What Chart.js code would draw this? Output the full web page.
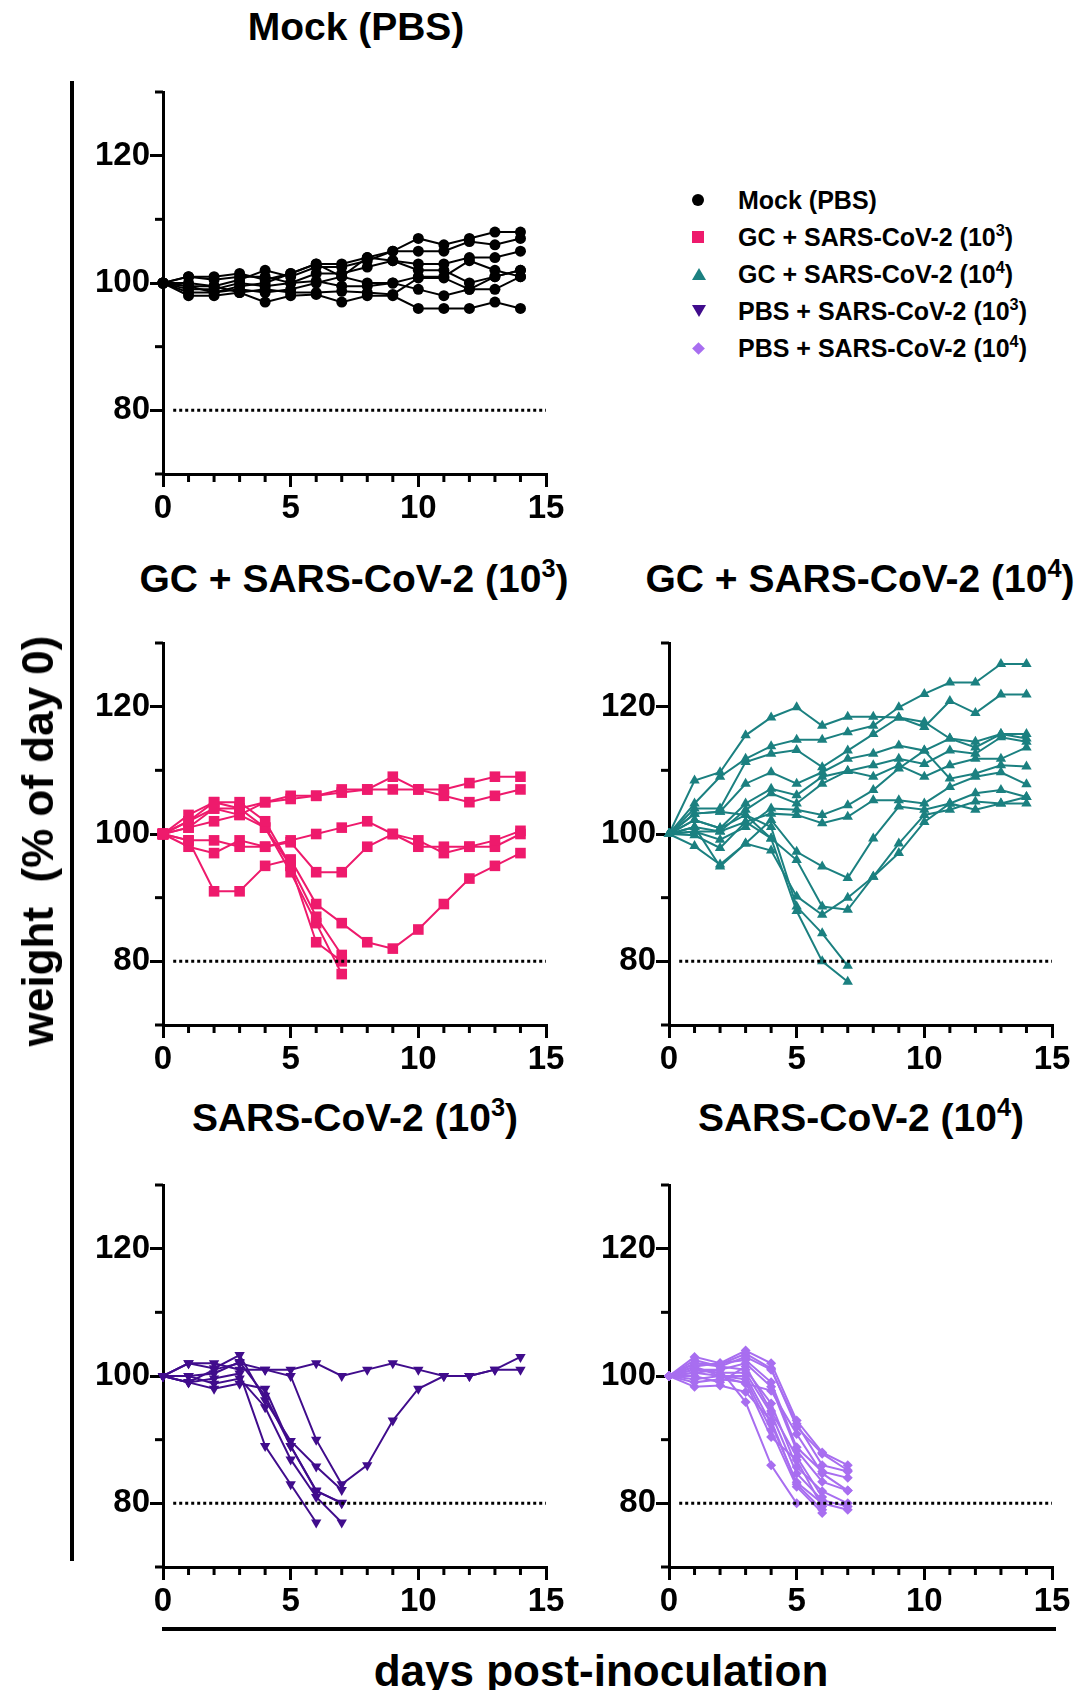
<!DOCTYPE html>
<html>
<head>
<meta charset="utf-8">
<script src="https://cdn.jsdelivr.net/npm/chart.js@4.4.1/dist/chart.umd.min.js"></script>
<style>
  body { margin:0; width:1082px; height:1690px; position:relative; background:#fff; overflow:hidden;
         font-family:"Liberation Sans", Arial, sans-serif; font-weight:bold; color:#000; }
  canvas { position:absolute; }
  .title { position:absolute; font-size:39px; transform:translate(-50%,-50%); white-space:nowrap; }
  sup { font-size:0.65em; vertical-align:0.6em; line-height:0; }
  .legend { position:absolute; left:684px; top:182px; font-size:25px; }
  .legend div { height:37px; line-height:37px; position:relative; padding-left:54px; white-space:nowrap; }
  .mk { position:absolute; left:8px; top:12px; }
  .bar { position:absolute; background:#000; }
</style>
</head>
<body>
<canvas id="mock"></canvas>
<canvas id="gc3"></canvas>
<canvas id="gc4"></canvas>
<canvas id="pbs3"></canvas>
<canvas id="pbs4"></canvas>

<div class="title" style="left:356px;top:27px">Mock (PBS)</div>
<div class="title" style="left:354px;top:579px">GC + SARS-CoV-2 (10<sup>3</sup>)</div>
<div class="title" style="left:860px;top:579px">GC + SARS-CoV-2 (10<sup>4</sup>)</div>
<div class="title" style="left:355px;top:1118px">SARS-CoV-2 (10<sup>3</sup>)</div>
<div class="title" style="left:861px;top:1118px">SARS-CoV-2 (10<sup>4</sup>)</div>

<div class="title" style="left:38px;top:841px;font-size:44px;white-space:pre;transform:translate(-50%,-50%) rotate(-90deg)">weight  (% of day 0)</div>
<div class="title" style="left:601px;top:1671px;font-size:44px">days post-inoculation</div>
<div class="bar" style="left:70px;top:81px;width:4px;height:1480px"></div>
<div class="bar" style="left:162px;top:1627px;width:894px;height:4px"></div>

<div class="legend">
  <div><span class="mk" style="width:12px;height:12px;border-radius:50%;background:#000"></span>Mock (PBS)</div>
  <div><span class="mk" style="width:12px;height:12px;background:#ee1a6c"></span>GC + SARS-CoV-2 (10<sup>3</sup>)</div>
  <div><span class="mk" style="width:0;height:0;border-left:7px solid transparent;border-right:7px solid transparent;border-bottom:12px solid #1b8080"></span>GC + SARS-CoV-2 (10<sup>4</sup>)</div>
  <div><span class="mk" style="width:0;height:0;border-left:7px solid transparent;border-right:7px solid transparent;border-top:12px solid #400c8c"></span>PBS + SARS-CoV-2 (10<sup>3</sup>)</div>
  <div><span class="mk" style="left:10px;top:14px;width:9px;height:9px;background:#a86ef0;transform:rotate(45deg)"></span>PBS + SARS-CoV-2 (10<sup>4</sup>)</div>
</div>

<script>
const days = [0, 1, 2, 3, 4, 5, 6, 7, 8, 9, 10, 11, 12, 13, 14];
const yLabels = [80, 100, 120];
const cutoff = 80;

// weight (% of day 0) per mouse, one row per animal
const mock = [
  [100, 101, 101, 101.5, 100.5, 101.5, 103, 103, 104, 105, 107, 106, 107, 108, 108],
  [100, 100, 99.5, 100.5, 102, 101, 102.5, 102.5, 103.5, 105, 105, 105, 106.5, 106, 107],
  [100, 99, 99, 100, 99.5, 100, 101.5, 101.5, 102.5, 103.5, 103, 103, 104, 104, 105],
  [100, 98.5, 98.5, 99, 98.5, 99, 100, 101, 104, 103.5, 102, 102, 100, 101, 102],
  [100, 99.5, 98.5, 99.5, 100, 101.5, 103, 101, 100, 100, 101, 101, 103.5, 102, 101],
  [100, 101, 100.5, 101, 101, 100, 100.3, 99.5, 99.5, 100, 99, 98, 99, 99, 101],
  [100, 98, 98, 98.5, 97, 98, 98.2, 97, 98, 98, 96, 96, 96, 97, 96],
  [100, 99.5, 99.5, 98.5, 99, 98.5, 98.5, 98.7, 98.5, 98.2, 100.8, 100.8, 99, 101, 102]
];

const gc3 = [
  [100, 102, 104, 104, 105, 105.5, 106, 106.5, 107, 109, 107, 107, 108, 109, 109],
  [100, 101, 102, 103, 105, 106, 106, 107, 107, 107, 107, 106, 105, 106, 107],
  [100, 99, 99, 98, 98, 99, 100, 101, 102, 100, 98, 98, 98, 99, 100.5],
  [100, 98, 97, 99, 98, 98.7, 94, 94, 98, 100, 99, 97, 98, 98, 100],
  [100, 99, 91, 91, 95, 96, 89, 86, 83, 82, 85, 89, 93, 95, 97],
  [100, 103, 105, 105, 102, 95, 87, 81],
  [100, 102, 105, 104, 101, 94, 86, 78],
  [100, 101, 104, 103, 101, 95, 83, 80]
];

const gc4 = [
  [100, 108.4, 109.7, 115.5, 118.3, 119.9, 117, 118.4, 118.4, 118.3, 117.6, 115, 114.5, 115.7, 115],
  [100, 104.8, 109, 111.8, 113.8, 114.8, 114.8, 116, 117, 119.9, 122, 123.8, 123.8, 126.7, 126.7],
  [100, 104, 104, 111.3, 112.6, 113.2, 110.5, 113.1, 115.7, 118.3, 116.8, 120.9, 119, 121.9, 121.9],
  [100, 103.2, 103.5, 107.9, 109.7, 107.9, 109.7, 111.8, 112.6, 113.9, 113.1, 115, 113.6, 115.7, 115.7],
  [100, 102.2, 100.9, 104.8, 107.1, 106.1, 109, 109.9, 110.8, 111.8, 111, 113.1, 112.6, 115.2, 114.5],
  [100, 101.1, 100.4, 103.8, 106.4, 104.8, 107.9, 109.9, 109, 110.8, 109, 110.8, 111.8, 111.8, 113.6],
  [100, 100.4, 99.1, 101.1, 104, 103.8, 103, 104.5, 106.9, 110.3, 113.1, 108.7, 109.5, 110.8, 110.6],
  [100, 99.8, 97.8, 101.9, 103.2, 103, 101.7, 102.7, 105.3, 105.3, 104.8, 107.4, 109, 109.7, 107.8],
  [100, 98.1, 95.2, 98.5, 102.2, 97.2, 94.9, 93.1, 99.3, 104.3, 103.8, 104.8, 106.4, 106.9, 105.8],
  [100, 102.2, 100.9, 103, 99.3, 95.9, 88.6, 88.1, 93.3, 98.5, 103, 103.8, 105.1, 104.8, 104.8],
  [100, 101.1, 94.9, 98.5, 97.4, 90.2, 87.3, 90, 93.3, 97, 101.9, 104.8, 103.8, 104.8, 105.8],
  [100, 103.2, 103.5, 103, 101.1, 88.6, 84.4, 79.3],
  [100, 100.4, 100.4, 101.9, 99.3, 87.9, 80, 76.8]
];

const pbs3 = [
  [100, 102, 102, 101, 101, 101, 102, 100, 101, 102, 101, 100, 100, 101, 101],
  [100, 99, 101, 102, 101, 100, 90, 83, 86, 93, 98, 100, 100, 101, 103],
  [100, 102, 101.2, 103.3, 96.2, 89.8, 85.8, 82.1],
  [100, 100, 100.4, 102.2, 96.9, 89, 81.9, 80.1],
  [100, 99, 99.6, 100.4, 89, 83, 77],
  [100, 100, 98.8, 99.6, 95.1, 86.9, 81, 77],
  [100, 99, 98, 98.8, 98, 89, 82, 80]
];

const pbs4 = [
  [100, 103, 102, 104, 102, 93, 88, 86],
  [100, 102, 101.5, 103, 101, 92.5, 86, 85],
  [100, 101.5, 102, 102.5, 99, 88.8, 85, 84],
  [100, 101, 101, 102, 98.3, 88.3, 83.4, 82],
  [100, 102.5, 101.5, 101, 95.7, 85.7, 81.9, 80],
  [100, 101, 100.5, 100.5, 94.1, 84.7, 80.5, 79.5],
  [100, 100.5, 100, 100, 92.5, 83.3, 80, 79],
  [100, 99.5, 100, 99.5, 91.5, 82.6, 78.5],
  [100, 99, 99.5, 99, 90.4, 86.8, 79.5],
  [100, 98.3, 98.5, 97.5, 93, 83, 79],
  [100, 100.5, 101, 95.9, 86, 80],
  [100, 101.5, 100, 98.8, 97.7, 90.9, 84.7, 82],
  [100, 100, 99, 101.5, 94.5, 87.3, 81],
  [100, 102, 101.8, 103.5, 101.2, 92, 87.8, 85.2]
];

const font = { family: '"Liberation Sans", Arial, sans-serif', weight: 'bold', size: 33 };

// short ticks between the labelled ones
const minorTicks = {
  id: 'minorTicks',
  afterDraw(chart) {
    const ctx = chart.ctx, a = chart.chartArea;
    const xs = chart.scales.x, ys = chart.scales.y;
    ctx.save();
    ctx.strokeStyle = '#000';
    ctx.lineWidth = 3;
    for (let d = 1; d < 15; d++) {
      if (d % 5 === 0) continue;
      const px = xs.getPixelForValue(d);
      ctx.beginPath(); ctx.moveTo(px, a.bottom); ctx.lineTo(px, a.bottom + 8); ctx.stroke();
    }
    for (let v = 70; v <= 130; v += 20) {
      const py = ys.getPixelForValue(v);
      ctx.beginPath(); ctx.moveTo(a.left - 8, py); ctx.lineTo(a.left, py); ctx.stroke();
    }
    ctx.restore();
  }
};

function panel(id, rows, color, style, radius, rotation, left, top) {
  const cv = document.getElementById(id);
  cv.width = 110 + 383 + 30;
  cv.height = 20 + 382 + 60;
  cv.style.left = (left - 110) + 'px';
  cv.style.top = (top - 20) + 'px';

  const sets = rows.map(r => ({
    data: r.map((v, i) => ({ x: days[i], y: v })),
    borderColor: color,
    backgroundColor: color,
    borderWidth: 2,
    pointStyle: style,
    pointRadius: radius,
    pointRotation: rotation,
    pointBorderWidth: 0,
    tension: 0,
    clip: false
  }));
  sets.unshift({
    data: [{ x: 0.4, y: cutoff }, { x: 15, y: cutoff }],
    borderColor: '#000',
    borderWidth: 3,
    borderDash: [3, 3],
    pointRadius: 0,
    clip: false
  });

  new Chart(cv, {
    type: 'line',
    data: { datasets: sets },
    options: {
      responsive: false,
      animation: false,
      layout: { padding: { top: 20, right: 30, left: 0, bottom: 0 } },
      plugins: { legend: { display: false }, tooltip: { enabled: false } },
      scales: {
        x: {
          type: 'linear', min: 0, max: 15,
          afterFit: s => { s.height = 60; },
          border: { color: '#000', width: 3 },
          grid: { drawOnChartArea: false, tickLength: 13, lineWidth: 3,
                  tickColor: c => (c.tick && c.tick.value % 5 === 0) ? '#000' : 'rgba(0,0,0,0)' },
          ticks: { stepSize: 1, autoSkip: false, maxRotation: 0, padding: 2, color: '#000', font: font,
                   callback: v => v % 5 === 0 ? v : '' }
        },
        y: {
          min: 70, max: 130,
          afterFit: s => { s.width = 110; },
          border: { color: '#000', width: 3 },
          grid: { drawOnChartArea: false, tickLength: 13, lineWidth: 3,
                  tickColor: c => (c.tick && yLabels.includes(c.tick.value)) ? '#000' : 'rgba(0,0,0,0)' },
          ticks: { stepSize: 10, autoSkip: false, padding: 0, color: '#000', font: font,
                   callback: v => yLabels.includes(v) ? v : '' }
        }
      }
    },
    plugins: [minorTicks]
  });
}

panel('mock', mock, '#000000', 'circle', 5.5, 0, 163, 92);
panel('gc3', gc3, '#ee1a6c', 'rect', 7.5, 0, 163, 643);
panel('gc4', gc4, '#1b8080', 'triangle', 6, 0, 668.5, 643);
panel('pbs3', pbs3, '#400c8c', 'triangle', 6, 180, 163, 1185);
panel('pbs4', pbs4, '#a86ef0', 'rectRot', 5, 0, 668.5, 1185);
</script>
</body>
</html>
